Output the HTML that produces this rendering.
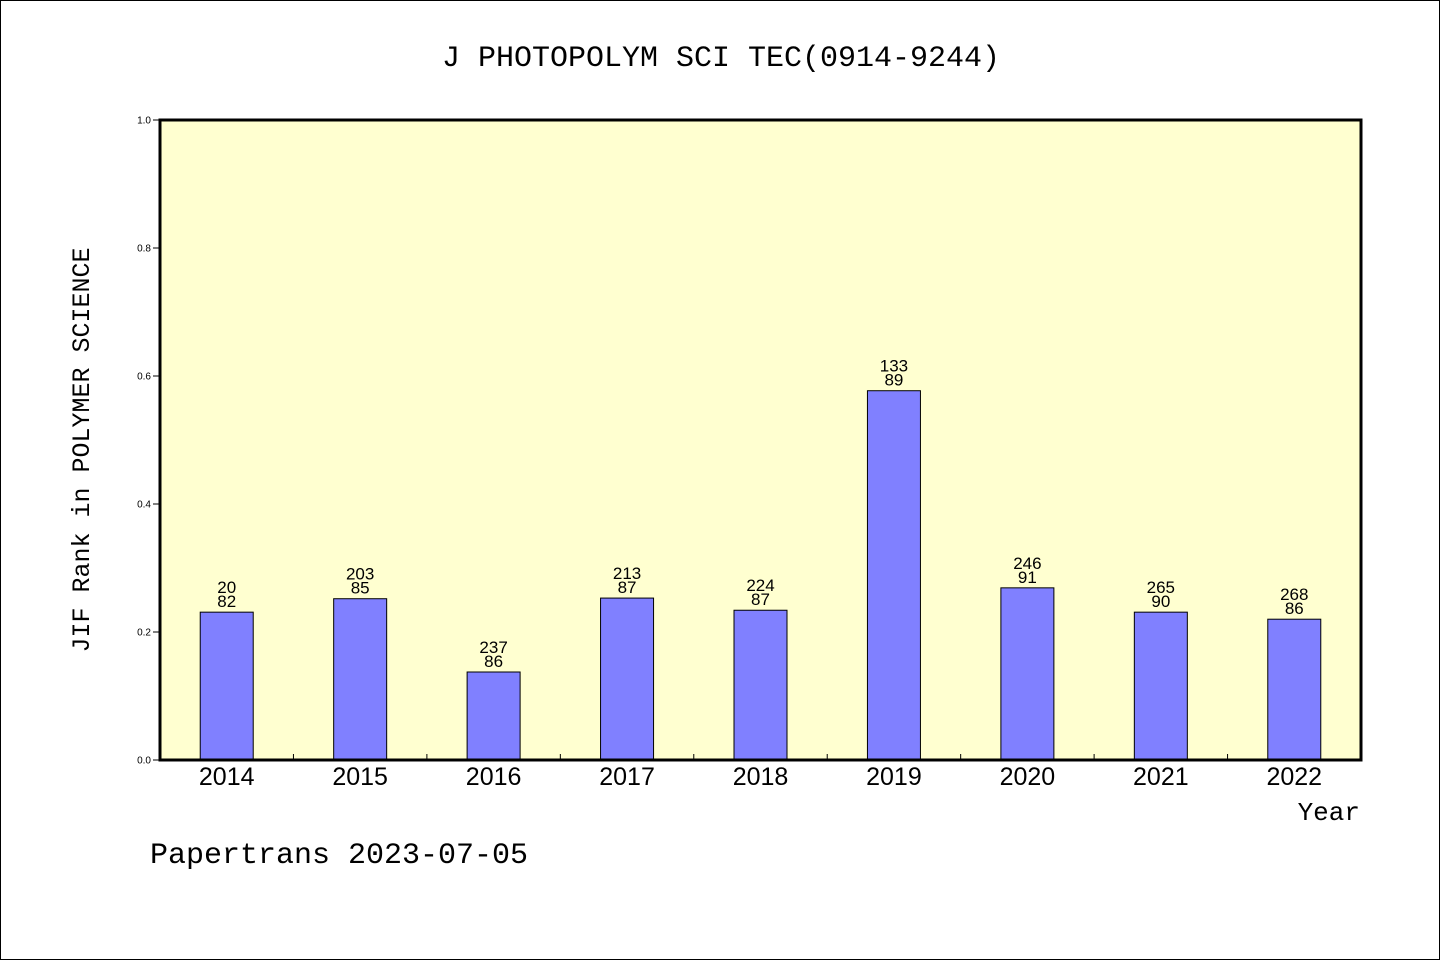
<!DOCTYPE html>
<html><head><meta charset="utf-8"><style>
html,body{margin:0;padding:0;background:#fff}
svg{display:block}
text{font-family:"Liberation Sans","WenQuanYi Zen Hei",sans-serif}
.mono{font-family:"Liberation Mono","WenQuanYi Zen Hei",monospace}
</style></head><body>
<svg id="c" width="1440" height="960" xmlns="http://www.w3.org/2000/svg">
<rect x="0.5" y="0.5" width="1439" height="959" fill="#fff" stroke="#000"/>
<text class="mono" x="721" y="66" font-size="30" text-anchor="middle">J PHOTOPOLYM SCI TEC(0914-9244)</text>
<rect x="160" y="120" width="1201" height="640" fill="#ffffd0"/>
<g id="bars"></g>
<g id="axes"></g>
<rect x="160" y="120" width="1201" height="640" fill="none" stroke="#000" stroke-width="3"/>
<text class="mono" x="89" y="450" font-size="25" text-anchor="middle" transform="rotate(-90 89 450)">JIF Rank in POLYMER SCIENCE</text>
<text class="mono" x="1360" y="820" font-size="26" text-anchor="end">Year</text>
<text class="mono" x="150" y="863" font-size="30">Papertrans 2023-07-05</text>
</svg>
<script>
const years=["2014","2015","2016","2017","2018","2019","2020","2021","2022"];
const values=[0.231,0.252,0.1375,0.253,0.234,0.577,0.269,0.231,0.220];
const topLabels=["20","203","237","213","224","133","246","265","268"];
const bottomLabels=["82","85","86","87","87","89","91","90","86"];
const yTicks=[0,0.2,0.4,0.6,0.8,1.0];
const X0=160,W=1201,Y0=760,H=640;
const step=W/years.length;
const xc=i=>X0+step*(i+0.5);
const y=v=>Y0-v*H;
const NS="http://www.w3.org/2000/svg";
function mk(tag,attrs,parent,txt){const e=document.createElementNS(NS,tag);for(const k in attrs)e.setAttribute(k,attrs[k]);if(txt!==undefined)e.textContent=txt;parent.appendChild(e);return e;}
const bars=document.getElementById('bars'),axes=document.getElementById('axes');
years.forEach((yr,i)=>{
  const b=mk('rect',{x:xc(i)-26.5,y:y(values[i]),width:53,height:values[i]*H,fill:'#8080ff',stroke:'#000','stroke-width':1},bars);
  
  
  const t1=mk('text',{x:xc(i),y:y(values[i])-19,'font-size':17,'text-anchor':'middle'},bars,topLabels[i]);
  
  
  const t2=mk('text',{x:xc(i),y:y(values[i])-5,'font-size':17,'text-anchor':'middle'},bars,bottomLabels[i]);
  
  
  const xl=mk('text',{x:xc(i),y:785,'font-size':25,'text-anchor':'middle'},axes,yr);
  
  
  if(i>0){const tk=mk('line',{x1:X0+step*i,x2:X0+step*i,y1:Y0,y2:Y0-6,stroke:'#000','stroke-width':1},axes);
  
  }
});
yTicks.forEach(v=>{
  const tk=mk('line',{x1:153,x2:160,y1:y(v),y2:y(v),stroke:'#000','stroke-width':1},axes);
  
  
  const tl=mk('text',{x:151,y:y(v)+3.5,'font-size':10,'text-anchor':'end'},axes,v.toFixed(1));
  
  
});
</script>
</body></html>
